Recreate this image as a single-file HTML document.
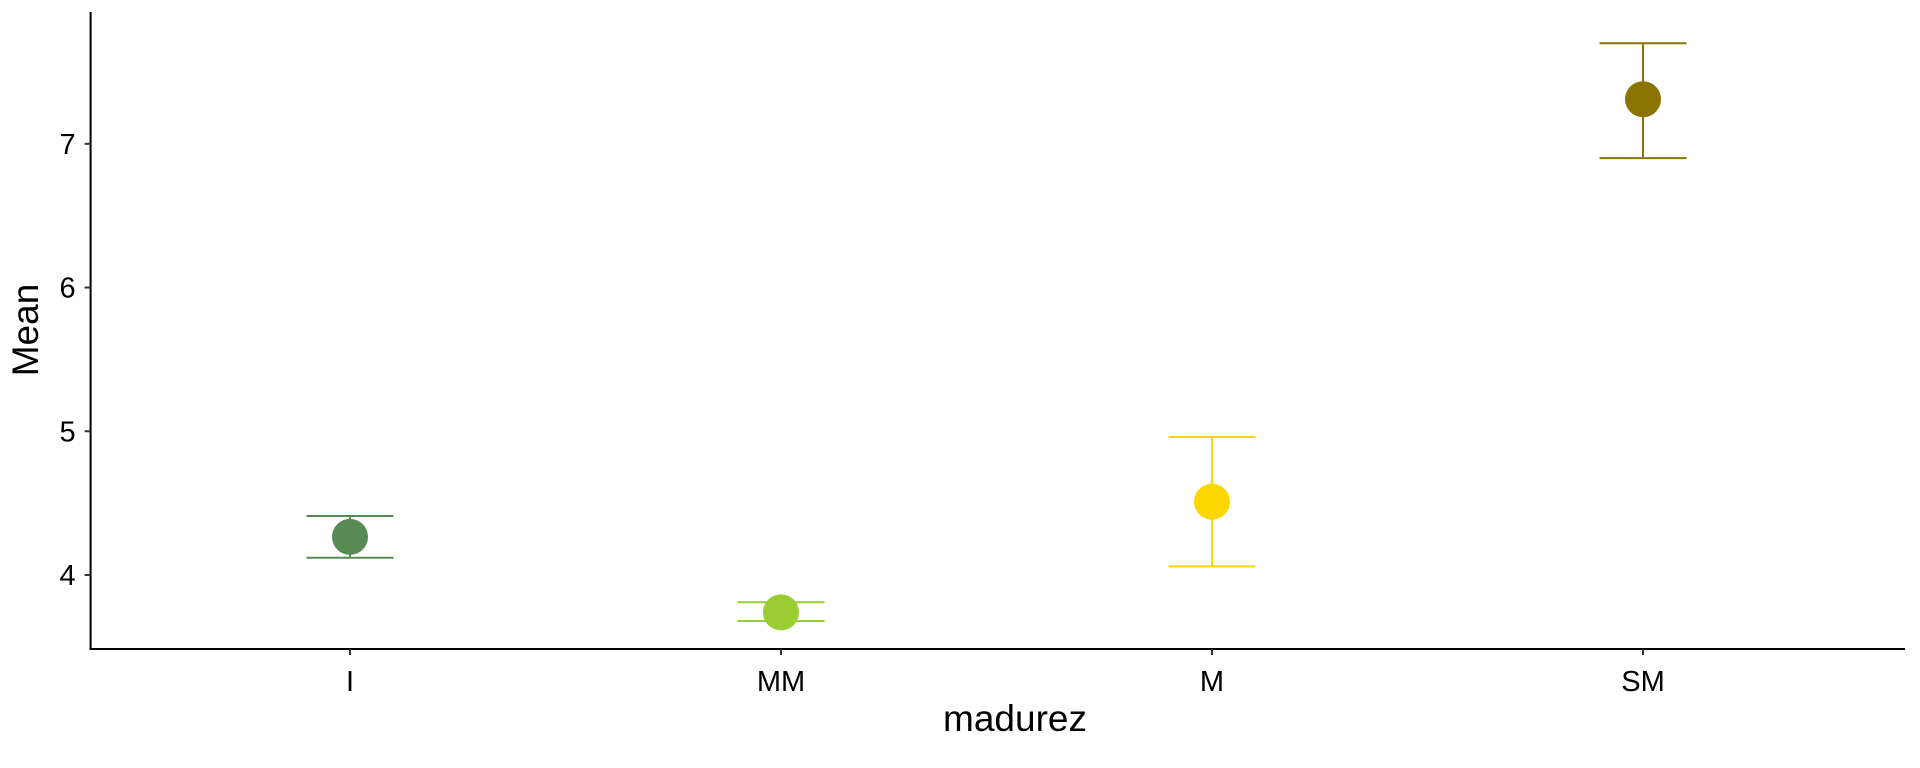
<!DOCTYPE html>
<html><head><meta charset="utf-8"><style>
html,body{margin:0;padding:0;background:#fff;}
svg{display:block;font-family:"Liberation Sans",Arial,sans-serif;}
</style></head><body>
<svg id="chart" width="1920" height="768" viewBox="0 0 1920 768">
<g id="axes"></g>
<g id="marks"></g>
<text x="1015" y="731" font-size="37" text-anchor="middle" fill="#000">madurez</text>
<text transform="translate(38,330) rotate(-90)" font-size="37" text-anchor="middle" fill="#000">Mean</text>
</svg>
<script>
const categories = ["I","MM","M","SM"];
const means = [4.265, 3.74, 4.51, 7.31];
const lowers = [4.12, 3.68, 4.06, 6.90];
const uppers = [4.41, 3.81, 4.96, 7.70];
const colors = ["#578A55","#9ACD32","#FFD700","#8B7500"];
const yTicks = [4,5,6,7];

const NS="http://www.w3.org/2000/svg";
const plotLeft=90.6, plotRight=1905, plotTop=12, plotBottom=649;
const yMin=3.485, yMax=7.917;
function yScale(v){return plotBottom-(v-yMin)/(yMax-yMin)*(plotBottom-plotTop);}
const band=431, x0=350;
function xScale(i){return x0+i*band;}
function mk(tag,attrs,parent){const e=document.createElementNS(NS,tag);for(const k in attrs)e.setAttribute(k,attrs[k]);parent.appendChild(e);return e;}
const axesG=document.getElementById('axes'), marksG=document.getElementById('marks');
let ax;
ax=mk('line',{x1:plotLeft,y1:plotTop,x2:plotLeft,y2:plotBottom+1,stroke:'#000','stroke-width':2},axesG);


ax=mk('line',{x1:plotLeft-1,y1:plotBottom,x2:plotRight,y2:plotBottom,stroke:'#000','stroke-width':2},axesG);


yTicks.forEach(t=>{
  const l=mk('line',{x1:plotLeft-6,y1:yScale(t),x2:plotLeft,y2:yScale(t),stroke:'#333','stroke-width':2},axesG);
  
  
  const tx=mk('text',{x:plotLeft-15,y:yScale(t)+10,'font-size':29,'text-anchor':'end',fill:'#000'},axesG);
  tx.textContent=t;
  
  
});
categories.forEach((c,i)=>{
  const l=mk('line',{x1:xScale(i),y1:plotBottom,x2:xScale(i),y2:plotBottom+6,stroke:'#333','stroke-width':2},axesG);
  
  
  const tx=mk('text',{x:xScale(i),y:691,'font-size':29,'text-anchor':'middle',fill:'#000'},axesG);
  tx.textContent=c;
  
  
  const g=mk('g',{},marksG);
  
  
  const col=colors[i], hw=43.5;
  mk('line',{x1:xScale(i),y1:yScale(uppers[i]),x2:xScale(i),y2:yScale(lowers[i]),stroke:col,'stroke-width':2},g);
  mk('line',{x1:xScale(i)-hw,y1:yScale(uppers[i]),x2:xScale(i)+hw,y2:yScale(uppers[i]),stroke:col,'stroke-width':2},g);
  mk('line',{x1:xScale(i)-hw,y1:yScale(lowers[i]),x2:xScale(i)+hw,y2:yScale(lowers[i]),stroke:col,'stroke-width':2},g);
  const p=mk('circle',{cx:xScale(i),cy:yScale(means[i]),r:18,fill:col},marksG);
  
  
});
</script>
</body></html>
